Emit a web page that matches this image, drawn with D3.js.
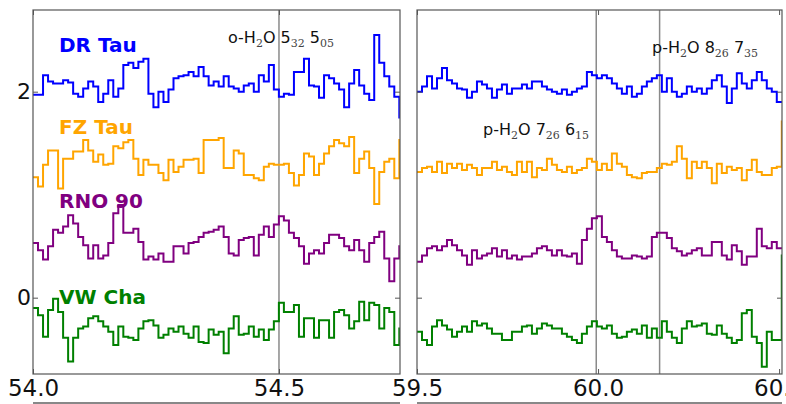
<!DOCTYPE html>
<html><head><meta charset="utf-8">
<script src="https://cdn.jsdelivr.net/npm/d3@7"></script>
<style>
html,body{margin:0;padding:0;background:#fff;}
svg{display:block;font-family:"DejaVu Sans",sans-serif;}
</style></head>
<body><svg id="c" width="786" height="404"></svg>
<script>
// ---- data ----
const seriesNames = ["DR Tau", "FZ Tau", "RNO 90", "VW Cha"];
const leftStart = 54.0, leftStep = 0.0102;
const rightStart = 59.5, rightStep = 0.0138;

const drTauLeft = [1.97,1.97,2.16,2.10,2.08,2.08,2.11,2.09,1.98,1.95,2.03,2.10,2.05,1.90,1.98,2.11,1.95,2.03,2.26,2.28,2.23,2.29,2.32,1.98,1.85,2.00,1.90,2.02,2.13,2.15,2.16,2.19,2.15,2.24,2.15,2.06,2.10,2.05,2.15,2.05,2.03,2.00,2.06,2.08,2.00,2.16,2.10,2.26,2.02,1.95,1.98,1.97,2.19,2.19,2.32,2.06,2.05,1.94,2.16,2.13,2.08,2.02,1.85,2.08,2.21,2.06,1.98,1.92,2.55,2.28,2.15,2.05,1.95,1.75];
const fzTauLeft = [1.17,1.08,1.29,1.43,1.43,1.06,1.35,1.35,1.42,1.42,1.53,1.43,1.32,1.39,1.29,1.30,1.47,1.45,1.51,1.53,1.35,1.19,1.34,1.29,1.29,1.21,1.14,1.34,1.22,1.27,1.34,1.34,1.35,1.21,1.53,1.53,1.53,1.55,1.26,1.26,1.43,1.40,1.19,1.19,1.16,1.14,1.27,1.30,1.29,1.29,1.30,1.21,1.09,1.19,1.40,1.37,1.19,1.30,1.40,1.47,1.53,1.50,1.47,1.56,1.21,1.35,1.42,1.26,0.91,1.22,1.32,1.35,1.16,1.53];
const rno90Left = [0.53,0.46,0.37,0.50,0.66,0.63,0.69,0.80,0.72,0.59,0.51,0.38,0.51,0.38,0.41,0.53,0.82,0.90,0.63,0.63,0.67,0.54,0.37,0.40,0.37,0.43,0.35,0.35,0.50,0.50,0.43,0.53,0.54,0.59,0.63,0.64,0.66,0.69,0.59,0.43,0.41,0.56,0.58,0.59,0.41,0.61,0.69,0.59,0.71,0.79,0.75,0.63,0.58,0.50,0.33,0.43,0.46,0.43,0.53,0.61,0.61,0.58,0.50,0.46,0.56,0.46,0.35,0.53,0.59,0.64,0.38,0.16,0.38,0.50];
const vwChaLeft = [-0.10,-0.17,-0.38,-0.12,-0.01,-0.14,-0.39,-0.62,-0.39,-0.30,-0.28,-0.20,-0.18,-0.23,-0.28,-0.33,-0.46,-0.28,-0.38,-0.39,-0.41,-0.30,-0.23,-0.22,-0.27,-0.39,-0.36,-0.30,-0.33,-0.28,-0.35,-0.39,-0.28,-0.43,-0.44,-0.31,-0.36,-0.33,-0.54,-0.30,-0.18,-0.36,-0.35,-0.28,-0.38,-0.31,-0.41,-0.31,-0.23,-0.05,-0.14,-0.14,-0.07,-0.38,-0.20,-0.20,-0.39,-0.22,-0.22,-0.39,-0.14,-0.12,-0.17,-0.30,-0.23,-0.04,-0.22,-0.05,-0.07,-0.30,-0.10,-0.14,-0.46,-0.30];

const drTauRight = [2.00,2.05,2.15,2.03,2.13,2.23,2.11,2.08,2.03,2.02,1.94,2.00,2.10,2.07,2.03,1.94,2.02,2.07,1.98,2.03,2.03,2.07,2.03,2.10,2.10,2.05,2.02,2.00,1.98,2.02,1.97,2.00,2.03,2.05,2.19,2.16,2.13,2.16,2.13,2.08,2.03,1.98,2.05,1.95,1.98,2.05,2.10,2.13,2.16,2.00,2.13,2.00,1.95,1.98,2.05,2.00,2.03,1.98,2.03,2.11,2.16,2.05,1.89,2.03,2.18,2.08,2.03,2.11,2.19,2.11,2.03,2.00,1.90,1.90];
const fzTauRight = [1.22,1.26,1.27,1.22,1.32,1.21,1.30,1.26,1.30,1.24,1.29,1.26,1.19,1.26,1.26,1.32,1.24,1.27,1.22,1.19,1.32,1.22,1.32,1.17,1.26,1.24,1.35,1.29,1.24,1.22,1.27,1.21,1.24,1.26,1.35,1.32,1.24,1.30,1.24,1.40,1.30,1.27,1.19,1.17,1.16,1.21,1.22,1.22,1.26,1.30,1.29,1.32,1.47,1.35,1.16,1.32,1.26,1.32,1.26,1.11,1.30,1.21,1.27,1.24,1.26,1.14,1.24,1.34,1.22,1.19,1.19,1.26,1.27,1.71];
const rno90Right = [0.35,0.41,0.48,0.50,0.46,0.50,0.56,0.51,0.46,0.41,0.32,0.46,0.38,0.41,0.43,0.48,0.40,0.46,0.38,0.41,0.37,0.40,0.40,0.43,0.48,0.50,0.46,0.41,0.46,0.41,0.40,0.43,0.33,0.56,0.67,0.77,0.79,0.59,0.54,0.46,0.40,0.38,0.38,0.41,0.40,0.38,0.40,0.59,0.63,0.63,0.58,0.48,0.45,0.41,0.43,0.46,0.48,0.41,0.41,0.54,0.54,0.41,0.37,0.51,0.45,0.32,0.40,0.40,0.67,0.50,0.48,0.54,0.48,0.48];
const vwChaRight = [-0.33,-0.41,-0.46,-0.28,-0.22,-0.27,-0.31,-0.38,-0.33,-0.28,-0.33,-0.23,-0.27,-0.25,-0.30,-0.35,-0.35,-0.41,-0.41,-0.33,-0.33,-0.28,-0.27,-0.35,-0.30,-0.25,-0.27,-0.30,-0.30,-0.35,-0.38,-0.41,-0.44,-0.35,-0.28,-0.23,-0.28,-0.30,-0.27,-0.35,-0.39,-0.38,-0.33,-0.31,-0.35,-0.27,-0.39,-0.30,-0.39,-0.23,-0.33,-0.39,-0.44,-0.30,-0.23,-0.28,-0.27,-0.25,-0.35,-0.36,-0.27,-0.35,-0.39,-0.44,-0.41,-0.15,-0.12,-0.38,-0.44,-0.67,-0.33,-0.41,-0.41,0.41];

const leftTicks = [54.0, 54.5];
const rightTicks = [59.5, 60.0, 60.5];
const yTicks = [0, 2];
const leftLines = [54.5];
const rightLines = [59.995, 60.17];

// annotation texts: [text, isSubscript]
const annLeft = [["o-H",0],["2",1],["O 5",0],["32",1],[" 5",0],["05",1]];
const annRight1 = [["p-H",0],["2",1],["O 8",0],["26",1],[" 7",0],["35",1]];
const annRight2 = [["p-H",0],["2",1],["O 7",0],["26",1],[" 6",0],["15",1]];

// ---- drawing ----
const colors = ["#0000ff", "#ffa500", "#800080", "#008000"];
const svg = d3.select("#c");
const yTop = 10, yBot = 374;
const y = d3.scaleLinear().domain([-0.741, 2.793]).range([yBot, yTop]);
const xL = d3.scaleLinear().domain([54.0, 54.746]).range([33, 400]);
const xR = d3.scaleLinear().domain([59.5, 60.508]).range([417, 782]);

function drawPanel(id, x, start, step, seriesList, vlines, ticks, showYLabels) {
  const [x0, x1] = x.range();
  svg.append("clipPath").attr("id", id).append("rect")
    .attr("x", x0).attr("y", yTop).attr("width", x1 - x0).attr("height", yBot - yTop);
  const g = svg.append("g");
  g.selectAll("line.v").data(vlines).enter().append("line")
    .attr("x1", d => x(d)).attr("x2", d => x(d))
    .attr("y1", yTop).attr("y2", yBot)
    .attr("stroke", "#8a8a8a").attr("stroke-width", 1.5);
  const line = d3.line()
    .x(d => x(d[0])).y(d => y(d[1]))
    .curve(d3.curveStepAfter);
  const pg = g.append("g").attr("clip-path", `url(#${id})`);
  seriesList.forEach((vals, si) => {
    const pts = vals.map((v, i) => [start + i * step, v]);
    pts.push([start + vals.length * step, vals[vals.length - 1]]);
    pg.append("path").datum(pts).attr("d", line)
      .attr("fill", "none").attr("stroke", colors[si])
      .attr("stroke-width", 2).attr("stroke-linejoin", "miter");
  });
  const fmt = d3.format(".1f");
  const ab = g.append("g").attr("transform", `translate(0,${yBot})`)
    .call(d3.axisBottom(x).tickValues(ticks).tickFormat(fmt).tickSize(-5).tickPadding(6));
  const at = g.append("g").attr("transform", `translate(0,${yTop})`)
    .call(d3.axisTop(x).tickValues(ticks).tickFormat("").tickSize(-5));
  const al = g.append("g").attr("transform", `translate(${x0},0)`)
    .call(d3.axisLeft(y).tickValues(yTicks).tickFormat(showYLabels ? d3.format("d") : "").tickSize(-5).tickPadding(2));
  const ar = g.append("g").attr("transform", `translate(${x1},0)`)
    .call(d3.axisRight(y).tickValues(yTicks).tickFormat("").tickSize(-5));
  [ab, at, al, ar].forEach(a => {
    a.select(".domain").remove();
    a.selectAll(".tick line").attr("stroke", "#555").attr("stroke-width", 1);
    a.selectAll(".tick text").attr("font-size", 23).attr("font-family", "DejaVu Sans").attr("fill", "#111");
  });
  al.selectAll(".tick text").attr("font-size", 22);
  g.append("rect").attr("x", x0).attr("y", yTop).attr("width", x1 - x0).attr("height", yBot - yTop)
    .attr("fill", "none").attr("stroke", "#555").attr("stroke-width", 1.2);
  g.append("line").attr("x1", x0).attr("x2", x1).attr("y1", 403).attr("y2", 403)
    .attr("stroke", "#888").attr("stroke-width", 2);
}

drawPanel("clipL", xL, leftStart, leftStep, [drTauLeft, fzTauLeft, rno90Left, vwChaLeft], leftLines, leftTicks, true);
drawPanel("clipR", xR, rightStart, rightStep, [drTauRight, fzTauRight, rno90Right, vwChaRight], rightLines, rightTicks, false);

const labelY = [52, 134, 208, 304];
seriesNames.forEach((n, i) => {
  svg.append("text").attr("x", 59).attr("y", labelY[i])
    .attr("font-family", "DejaVu Sans").attr("font-weight", "bold")
    .attr("font-size", 20).attr("fill", colors[i]).text(n);
});

function annotate(parts, x0, yb) {
  const t = svg.append("text").attr("x", x0).attr("y", yb).attr("fill", "#111");
  parts.forEach(([s, sub], i) => {
    const ts = t.append("tspan").text(s);
    if (sub) {
      ts.attr("font-size", 11).attr("font-family", "DejaVu Serif").attr("fill", "#444").attr("dy", 4);
    } else {
      ts.attr("font-size", 16).attr("font-family", "DejaVu Sans");
      if (i > 0) ts.attr("dy", -4);
    }
  });
}
annotate(annLeft, 228, 43);
annotate(annRight1, 652, 53);
annotate(annRight2, 483, 135);
</script></body></html>
